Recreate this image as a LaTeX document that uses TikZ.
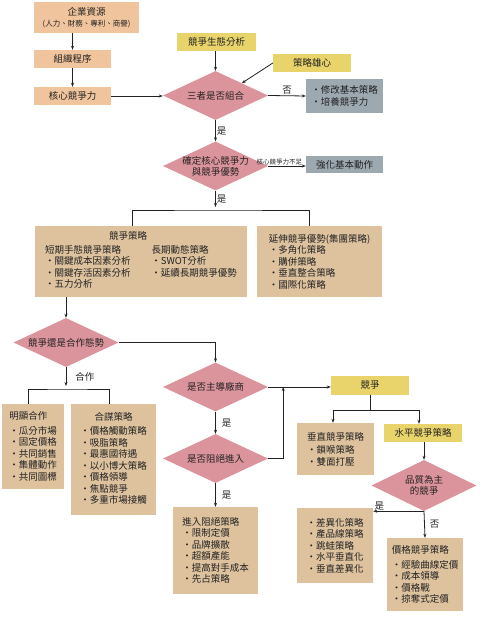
\documentclass[tikz,border=0pt]{standalone}
\usepackage{fontspec}
\setmainfont{Noto Sans CJK TC}
\usepackage{tikz}
\usetikzlibrary{shapes.geometric,arrows.meta}
\definecolor{cpeach}{HTML}{F0C49C}
\definecolor{ctan}{HTML}{DEC29E}
\definecolor{cyellow}{HTML}{E9D46B}
\definecolor{cpink}{HTML}{DC949C}
\definecolor{cgray}{HTML}{9DA9B1}
\definecolor{cink}{HTML}{222222}
\tikzset{
  flow/.style={line width=0.8pt, draw=cink},
  arr/.style={flow, -{Stealth[length=4pt,width=3pt]}},
  flowbox/.style={inner sep=2pt, text=cink, font=\fontsize{9.5}{11.5}\selectfont, align=left},
  peachbox/.style={flowbox, fill=cpeach, align=center},
  tanbox/.style={flowbox, fill=ctan},
  yellowbox/.style={flowbox, fill=cyellow, align=center},
  graybox/.style={flowbox, fill=cgray},
  decision/.style={diamond, aspect=2.14, fill=cpink, inner sep=-2pt, minimum width=105pt,
    minimum height=49pt, text=cink, font=\fontsize{9.5}{11}\selectfont, align=center},
  tag/.style={text=cink, font=\fontsize{9.5}{11}\selectfont, inner sep=1pt},
}

\begin{document}
\begin{tikzpicture}[x=1pt, y=-1pt]
  \useasboundingbox (0,0) rectangle (481,617);
  % resources -> core competence
  \node[peachbox, minimum width=105pt, minimum height=31pt] (res) at (86.5,17.5)
    {企業資源\\[-1pt]{\fontsize{7.5}{9}\selectfont (人力、財務、專利、商譽)}};
  \node[peachbox, minimum width=77pt, minimum height=18pt] (org) at (72.5,59) {組織程序};
  \node[peachbox, minimum width=77pt, minimum height=18pt] (core) at (72.5,96) {核心競爭力};
  % first two decisions
  \node[yellowbox, minimum width=79pt, minimum height=18pt] (eco) at (216.5,42) {競爭生態分析};
  \node[yellowbox, minimum width=78pt, minimum height=18pt] (amb) at (312,63) {策略雄心};
  \node[decision] (q1) at (215.5,95.5) {三者是否組合};
  \node[graybox, minimum width=77pt, minimum height=34pt] (fix) at (344.5,96)
    {・修改基本策略\\・培養競爭力};
  \node[decision] (q2) at (215.5,166) {確定核心競爭力\\與競爭優勢};
  \node[graybox, align=center, minimum width=77pt, minimum height=17pt] (base) at (344.5,165) {強化基本動作};
  % strategy boxes
  \coordinate (split1) at (215.5,210);
  \node[tanbox, minimum width=212pt, minimum height=71pt] (strat) at (141,261.5) {%
    \begin{tabular}{@{}l@{\hspace{21pt}}l@{}}
      \multicolumn{2}{@{}l@{}}{\hspace{64pt}競爭策略}\\[2pt]
      短期手態競爭策略 & 長期動態策略\\
      ・關鍵成本因素分析 & ・SWOT分析\\
      ・關鍵存活因素分析 & ・延續長期競爭優勢\\
      ・五力分析 &
    \end{tabular}};
  \node[tanbox, minimum width=125pt, minimum height=71pt] (ext) at (319.5,261.5)
    {延伸競爭優勢(集團策略)\\・多角化策略\\・購併策略\\・垂直整合策略\\・國際化策略};
  % competition or cooperation
  \node[decision] (q3) at (66,342.5) {競爭還是合作態勢};
  \coordinate (split2) at (66,389);
  \node[tanbox, minimum width=62pt, minimum height=85pt] (coop1) at (33,446.5)
    {明顯合作\\[3pt]・瓜分市場\\・固定價格\\・共同銷售\\・集體動作\\・共同圖標};
  \node[tanbox, minimum width=85pt, minimum height=111pt] (coop2) at (113.5,459.5) {%
    \begin{tabular}{@{}l@{}}
      \multicolumn{1}{@{}c@{}}{合謀策略}\\[3pt]
      ・價格觸動策略\\ ・吸脂策略\\ ・最惠國待遇\\ ・以小博大策略\\
      ・價格領導\\ ・焦點競爭\\ ・多重市場接觸
    \end{tabular}};
  % dominant firm branch
  \node[decision] (q4) at (215.5,387) {是否主導廠商};
  \node[decision] (q5) at (215.5,458.5) {是否阻絕進入};
  \node[tanbox, minimum width=85pt, minimum height=87pt] (deny) at (215.5,550.5)
    {進入阻絕策略\\・限制定價\\・品牌擴散\\・超額產能\\・提高對手成本\\・先占策略};
  % competition branch
  \node[yellowbox, minimum width=78pt, minimum height=19pt] (comp) at (370,385) {競爭};
  \coordinate (split3) at (370,410);
  \node[tanbox, minimum width=77pt, minimum height=52pt] (vert) at (335.5,449)
    {垂直競爭策略\\[2pt]・鎖喉策略\\・雙面打壓};
  \node[yellowbox, minimum width=78pt, minimum height=18pt] (horiz) at (423,433) {水平競爭策略};
  \node[decision, minimum height=51pt] (q6) at (424,485.5) {品質為主\\的競爭};
  \node[tanbox, minimum width=76pt, minimum height=75pt] (diff) at (335,545.5)
    {・差異化策略\\・產品線策略\\・跳蛙策略\\・水平垂直化\\・垂直差異化};
  \node[tanbox, minimum width=76pt, minimum height=73pt] (price) at (425,574.5)
    {價格競爭策略\\[3pt]・經驗曲線定價\\・成本領導\\・價格戰\\・掠奪式定價};

  % connectors
  \draw[arr] (res.south -| org.north) -- (org.north);
  \draw[arr] (org.south) -- (core.north);
  \draw[arr] (core.east) -- (core.east -| q1.west);
  \draw[arr] (q1.north |- eco.south) -- (q1.north);
  \draw[arr] (amb.west) -- (q1.north east);
  \draw[arr] (q1.east) -- (fix.west) node[midway, above, tag] {否};
  \draw[arr] (q1.south) -- (q2.north) node[midway, right, tag] {是};
  \draw[arr] (q2.east) -- (q2.east -| base.west)
    node[pos=0.3, above, inner sep=1pt, text=cink, font=\fontsize{6.5}{7}\selectfont] {核心競爭力不足};
  \draw[arr] (q2.south) -- ([yshift=3pt]split1) node[midway, right, tag] {是};
  \draw[flow] ([xshift=-9pt]strat.north) |- (split1) -| ([xshift=-10.5pt]ext.north);
  \draw[arr] (q3.north |- strat.south) -- (q3.north);
  \draw[arr] (q3.south) -- ([yshift=3pt]split2) node[midway, right, tag, xshift=8pt] {合作};
  \draw[flow] ([xshift=-5pt]coop1.north) |- (split2) -| ([xshift=-4.5pt]coop2.north);
  \draw[arr] (q3.east) -| (q4.north);
  \draw[arr] (q4.south) -- (q5.north) node[midway, right, tag, xshift=5pt] {是};
  \draw[arr] (q5.south) -- (deny.north) node[midway, right, tag, xshift=5pt] {是};
  \draw[arr] (q4.east) -- (q4.east -| comp.west);
  \draw[arr] (q5.east) -| ([xshift=15pt]q4.east);
  \draw[flow] (comp.south) -- (split3);
  \draw[arr] (split3) -| ([xshift=-2.5pt]vert.north);
  \draw[arr] (split3) -| ([xshift=-4pt]horiz.north);
  \draw[arr] (q6.north |- horiz.south) -- (q6.north);
  \draw[arr] (q6.south) -- (price.north) node[midway, right, tag, xshift=4pt] {否};
  \draw[arr] (q6.south) -- (q6.south -| diff.east) node[pos=0.88, above, tag] {是};
\end{tikzpicture}
\end{document}
